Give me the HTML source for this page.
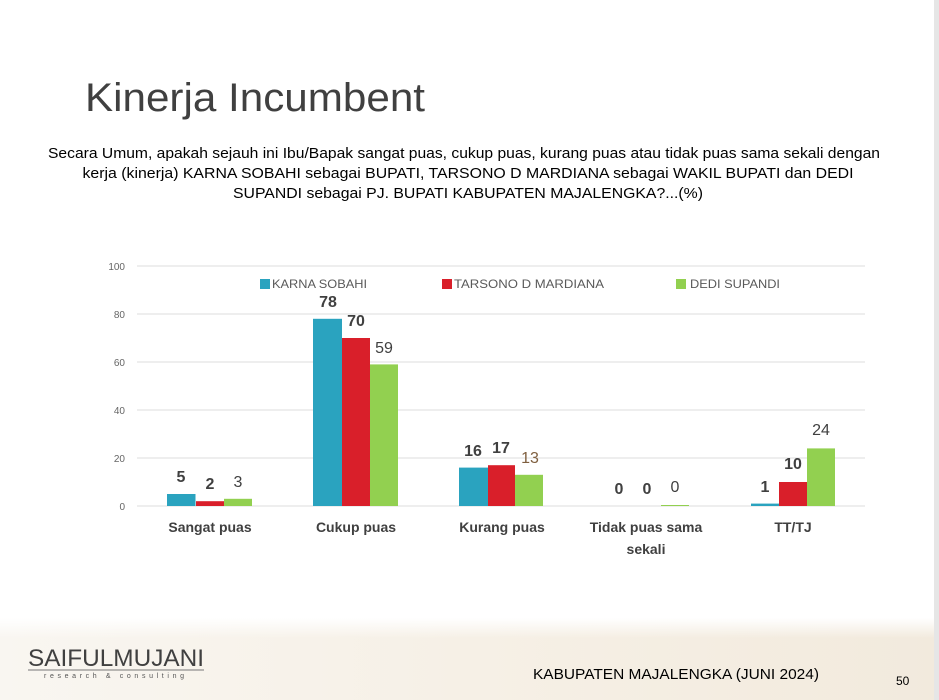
<!DOCTYPE html>
<html><head><meta charset="utf-8"><style>
html,body{margin:0;padding:0;background:#fff}
svg{display:block}
</style></head><body>
<svg width="939" height="700" viewBox="0 0 939 700" xmlns="http://www.w3.org/2000/svg" font-family="Liberation Sans, DejaVu Sans, sans-serif">
<defs>
<linearGradient id="ft" x1="0" y1="0" x2="1" y2="0">
<stop offset="0" stop-color="#f9f6f1"/><stop offset="0.5" stop-color="#f6f0e6"/><stop offset="1" stop-color="#f2eadd"/>
</linearGradient>
<linearGradient id="fv" x1="0" y1="0" x2="0" y2="1">
<stop offset="0" stop-color="#fff" stop-opacity="1"/><stop offset="1" stop-color="#fff" stop-opacity="0"/>
</linearGradient>
</defs>
<rect width="939" height="700" fill="#fff"/>
<rect x="0" y="618" width="939" height="82" fill="url(#ft)"/>
<rect x="0" y="618" width="939" height="20" fill="url(#fv)"/>
<rect x="934" y="0" width="5" height="700" fill="#e6e6e6"/>

<text x="85" y="111" font-size="40" fill="#404040" textLength="340" lengthAdjust="spacingAndGlyphs">Kinerja Incumbent</text>
<g font-size="14.5" fill="#000" text-anchor="middle">
<text x="464" y="158" textLength="832" lengthAdjust="spacingAndGlyphs">Secara Umum, apakah sejauh ini Ibu/Bapak sangat puas, cukup puas, kurang puas atau tidak puas sama sekali dengan</text>
<text x="468" y="178" textLength="771" lengthAdjust="spacingAndGlyphs">kerja (kinerja) KARNA SOBAHI  sebagai BUPATI, TARSONO D MARDIANA sebagai WAKIL BUPATI dan DEDI</text>
<text x="468" y="198" textLength="470" lengthAdjust="spacingAndGlyphs">SUPANDI sebagai PJ. BUPATI KABUPATEN MAJALENGKA?...(%)</text>
</g>

<g stroke="#e3e3e3" stroke-width="1.2">
<line x1="137" y1="266" x2="865" y2="266"/>
<line x1="137" y1="314" x2="865" y2="314"/>
<line x1="137" y1="362" x2="865" y2="362"/>
<line x1="137" y1="410" x2="865" y2="410"/>
<line x1="137" y1="458" x2="865" y2="458"/>
<line x1="137" y1="506" x2="865" y2="506"/>
</g>
<g font-size="10" fill="#666" text-anchor="end">
<text x="125" y="270">100</text><text x="125" y="318">80</text><text x="125" y="366">60</text>
<text x="125" y="414">40</text><text x="125" y="462">20</text><text x="125" y="510">0</text>
</g>

<g font-size="12" fill="#595959">
<rect x="260" y="279" width="10" height="10" fill="#2aa3bf"/><text x="272" y="288" textLength="95" lengthAdjust="spacingAndGlyphs">KARNA SOBAHI</text>
<rect x="442" y="279" width="10" height="10" fill="#d91f2a"/><text x="454" y="288" textLength="150" lengthAdjust="spacingAndGlyphs">TARSONO D MARDIANA</text>
<rect x="676" y="279" width="10" height="10" fill="#92d050"/><text x="690" y="288" textLength="90" lengthAdjust="spacingAndGlyphs">DEDI SUPANDI</text>
</g>

<g>
<rect x="167" y="494" width="28.5" height="12" fill="#2aa3bf"/>
<rect x="196" y="501.2" width="28" height="4.8" fill="#d91f2a"/>
<rect x="224" y="498.8" width="28" height="7.2" fill="#92d050"/>

<rect x="313" y="318.8" width="29" height="187.2" fill="#2aa3bf"/>
<rect x="342" y="338" width="28" height="168" fill="#d91f2a"/>
<rect x="370" y="364.4" width="28" height="141.6" fill="#92d050"/>

<rect x="459" y="467.6" width="29" height="38.4" fill="#2aa3bf"/>
<rect x="488" y="465.2" width="27" height="40.8" fill="#d91f2a"/>
<rect x="515" y="474.8" width="28" height="31.2" fill="#92d050"/>

<rect x="661" y="505" width="28" height="1" fill="#92d050"/>

<rect x="751" y="503.6" width="28" height="2.4" fill="#2aa3bf"/>
<rect x="779" y="482" width="28" height="24" fill="#d91f2a"/>
<rect x="807" y="448.4" width="28" height="57.6" fill="#92d050"/>
</g>

<g font-size="16" text-anchor="middle" fill="#404040">
<text x="181" y="482" font-weight="bold">5</text>
<text x="210" y="489" font-weight="bold">2</text>
<text x="238" y="487">3</text>
<text x="328" y="307" font-weight="bold">78</text>
<text x="356" y="326" font-weight="bold">70</text>
<text x="384" y="353">59</text>
<text x="473" y="456" font-weight="bold">16</text>
<text x="501" y="453" font-weight="bold">17</text>
<text x="530" y="463" fill="#7f5f3f">13</text>
<text x="619" y="494" font-weight="bold">0</text>
<text x="647" y="494" font-weight="bold">0</text>
<text x="675" y="492">0</text>
<text x="765" y="492" font-weight="bold">1</text>
<text x="793" y="469" font-weight="bold">10</text>
<text x="821" y="435">24</text>
</g>

<g font-size="14" font-weight="bold" fill="#404040" text-anchor="middle">
<text x="210" y="532">Sangat puas</text>
<text x="356" y="532">Cukup puas</text>
<text x="502" y="532">Kurang puas</text>
<text x="646" y="532">Tidak puas sama</text>
<text x="646" y="554">sekali</text>
<text x="793" y="532">TT/TJ</text>
</g>

<text x="28" y="666" font-size="24" fill="#404040" textLength="176" lengthAdjust="spacingAndGlyphs">SAIFULMUJANI</text>
<line x1="28" y1="670" x2="204" y2="670" stroke="#777" stroke-width="1"/>
<text x="44" y="678" font-size="7" fill="#555" letter-spacing="2" textLength="142" lengthAdjust="spacing">research &amp; consulting</text>
<text x="533" y="679" font-size="15" fill="#000" textLength="286" lengthAdjust="spacingAndGlyphs">KABUPATEN MAJALENGKA (JUNI 2024)</text>
<text x="896" y="685" font-size="12" fill="#000">50</text>
</svg>
</body></html>
